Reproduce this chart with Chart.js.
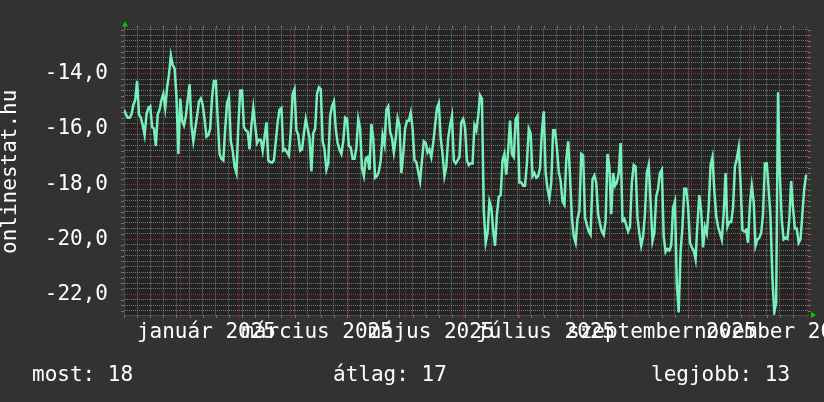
<!DOCTYPE html>
<html><head><meta charset="utf-8">
<script src="https://cdn.jsdelivr.net/npm/chart.js@4.4.1/dist/chart.umd.min.js"></script>
<style>
html,body{margin:0;padding:0;background:#323232;}
#wrap{position:relative;width:824px;height:402px;overflow:hidden;background:#323232;}
#c{position:absolute;left:0;top:0;}
.stat{position:absolute;top:361px;font-family:'DejaVu Sans Mono',monospace;font-size:21px;line-height:26px;color:#ffffff;white-space:pre;}
#s0{left:32px;} #s1{left:333px;} #s2{left:651px;}
</style></head><body>
<div id="wrap">
<canvas id="c" width="824" height="402"></canvas>
<div class="stat" id="s0"></div><div class="stat" id="s1"></div><div class="stat" id="s2"></div>
</div>
<script>
// ---- data ----
const startDate = [2024, 11, 2];          // first day shown (2024-12-02)
const monthNames = ['január','február','március','április','május','június','július','augusztus','szeptember','október','november','december'];
const labelYear = 2025;
const labelMonths = [0, 2, 4, 6, 8, 10];  // labelled months of 2025
const axisTitle = 'onlinestat.hu';
const statLabels = ['most', 'átlag', 'legjobb'];
const statValues = [18, 17, 13];
// daily value (negated rank), one per day
const ranks = [
-15.30,-15.47,-15.59,-15.59,-15.47,-15.13,-14.95,-14.26,-15.47,-15.59,
-15.87,-16.22,-15.47,-15.24,-15.18,-15.93,-15.99,-16.62,-15.47,-15.30,
-14.95,-14.72,-15.24,-14.49,-14.03,-13.34,-13.69,-13.80,-14.84,-16.91,
-14.90,-15.70,-15.87,-15.53,-14.95,-14.38,-15.87,-16.45,-15.99,-15.53,
-15.01,-14.90,-15.13,-15.64,-16.28,-16.22,-15.99,-14.84,-14.26,-14.26,
-15.64,-16.91,-17.08,-17.14,-15.99,-15.07,-14.84,-16.45,-16.79,-17.37,
-17.60,-15.90,-14.61,-14.61,-15.93,-16.05,-16.10,-16.74,-15.87,-15.24,
-15.87,-16.51,-16.39,-16.39,-16.79,-16.28,-15.76,-17.14,-17.20,-17.22,
-17.14,-16.45,-15.76,-15.30,-15.24,-16.79,-16.74,-16.85,-16.97,-16.10,
-14.72,-14.55,-16.05,-16.22,-16.79,-16.74,-16.16,-15.64,-15.99,-16.33,
-17.54,-16.16,-15.99,-14.72,-14.49,-14.55,-16.45,-16.74,-17.48,-17.25,
-15.53,-15.18,-15.01,-15.99,-16.51,-16.76,-16.91,-16.45,-15.59,-15.64,
-16.62,-16.68,-17.08,-17.08,-16.68,-15.64,-15.99,-17.43,-17.71,-17.08,
-17.02,-17.48,-15.82,-16.33,-17.77,-17.71,-17.54,-17.14,-16.22,-16.56,
-15.30,-15.18,-16.10,-16.33,-16.85,-16.33,-15.61,-15.87,-17.60,-16.91,
-15.99,-15.70,-15.70,-15.41,-15.99,-17.14,-17.20,-17.54,-17.89,-17.14,
-16.45,-16.51,-16.85,-16.74,-17.02,-16.51,-15.87,-15.24,-15.07,-16.33,
-16.91,-17.71,-17.37,-16.33,-15.87,-15.53,-17.14,-17.25,-17.14,-17.02,
-15.76,-15.64,-15.95,-17.14,-17.31,-17.25,-17.25,-15.87,-16.05,-15.53,
-14.78,-14.90,-18.98,-20.13,-19.78,-18.63,-18.86,-19.67,-20.24,-19.09,
-18.46,-18.40,-17.14,-16.90,-17.66,-16.79,-15.70,-16.91,-17.02,-15.64,
-15.53,-17.94,-17.94,-18.06,-18.06,-17.25,-15.99,-16.16,-17.71,-17.60,
-17.77,-17.71,-17.43,-16.10,-15.36,-17.60,-18.17,-18.52,-17.94,-16.05,
-16.05,-16.68,-17.54,-17.89,-18.63,-18.75,-17.14,-16.45,-17.71,-19.21,
-19.90,-20.13,-19.26,-18.98,-16.91,-16.97,-19.21,-19.49,-19.72,-19.84,
-17.83,-17.69,-17.94,-19.09,-19.44,-19.72,-19.84,-19.32,-16.91,-17.37,
-19.09,-17.60,-18.06,-17.94,-17.60,-16.51,-19.32,-19.26,-19.49,-19.72,
-19.55,-17.94,-17.31,-17.37,-19.21,-19.78,-20.24,-19.90,-19.09,-17.60,
-17.31,-18.63,-20.07,-19.78,-18.46,-18.17,-17.60,-17.48,-19.90,-20.47,
-20.36,-20.41,-20.24,-18.86,-18.63,-21.62,-22.66,-20.47,-19.55,-18.17,
-18.17,-18.80,-20.13,-20.30,-20.41,-20.73,-19.45,-18.40,-18.98,-20.30,
-19.55,-19.78,-18.86,-17.31,-17.02,-18.23,-19.15,-19.55,-19.78,-20.01,
-19.09,-17.60,-19.55,-19.38,-19.38,-18.86,-17.37,-17.08,-16.68,-17.94,
-19.67,-19.72,-19.67,-20.13,-18.75,-18.06,-18.63,-20.24,-20.01,-19.95,
-19.78,-19.09,-17.25,-17.25,-18.17,-19.21,-21.39,-22.66,-22.31,-14.67,
-17.71,-19.32,-20.01,-19.95,-19.99,-19.32,-17.89,-18.86,-19.61,-19.61,
-20.13,-20.01,-19.09,-18.17,-17.66
];
const yMin = -22.75, yMax = -12.36;

// ---- derived ----
const DAY = 86400000;
const t0 = Date.UTC(startDate[0], startDate[1], startDate[2]);
const dayIndex = (y, m, d) => Math.round((Date.UTC(y, m, d) - t0) / DAY);
const nDays = ranks.length;
const monthStarts = new Set();
for (let k = 0; k < 14; k++) {
  const idx = dayIndex(startDate[0], startDate[1] + k, 1);
  if (idx >= 0 && idx <= nDays) monthStarts.add(idx);
}
const weekly = new Set();
for (let i = 0; i <= nDays; i += 7) weekly.add(i);
const labelMap = new Map();
labelMonths.forEach(m => labelMap.set(dayIndex(labelYear, m, 15), monthNames[m] + ' ' + labelYear));
const xTickVals = [...new Set([...weekly, ...monthStarts, ...labelMap.keys()])].sort((a, b) => a - b);

statLabels.forEach((l, i) => { document.getElementById('s' + i).textContent = l + ': ' + statValues[i]; });

const FONT = "'DejaVu Sans Mono', monospace";
const GRID = 'rgba(125,125,125,0.9)';
const MAJOR = 'rgba(150,45,45,0.95)';
const isMajorY = v => Math.round(v * 5) % 10 === 0;

const bgPlugin = {
  id: 'bg',
  beforeDraw(chart) {
    const {ctx, chartArea: a} = chart;
    ctx.save();
    ctx.fillStyle = '#242424';
    ctx.fillRect(a.left, a.top, a.right - a.left, a.bottom - a.top);
    ctx.restore();
  },
  afterDraw(chart) {
    const {ctx, chartArea: a, scales} = chart;
    ctx.save();
    ctx.lineWidth = 1;
    // small outside tick marks like the original
    scales.x.ticks.forEach(t => {
      const col = monthStarts.has(t.value) ? MAJOR : (weekly.has(t.value) ? GRID : null);
      if (!col) return;
      const px = Math.round(scales.x.getPixelForValue(t.value)) + 0.5;
      ctx.strokeStyle = col;
      ctx.beginPath(); ctx.moveTo(px, a.top - 3); ctx.lineTo(px, a.top); ctx.moveTo(px, a.bottom); ctx.lineTo(px, a.bottom + 3); ctx.stroke();
    });
    scales.y.ticks.forEach(t => {
      const py = Math.round(scales.y.getPixelForValue(t.value)) + 0.5;
      ctx.strokeStyle = isMajorY(t.value) ? MAJOR : GRID;
      ctx.beginPath(); ctx.moveTo(a.right, py); ctx.lineTo(a.right + 3, py); ctx.moveTo(a.left - 3, py); ctx.lineTo(a.left, py); ctx.stroke();
    });
    ctx.fillStyle = '#00d000';
    ctx.beginPath();
    ctx.moveTo(a.left + 1, a.top - 7); ctx.lineTo(a.left - 2, a.top - 2); ctx.lineTo(a.left + 4, a.top - 2); ctx.closePath(); ctx.fill();
    ctx.beginPath();
    ctx.moveTo(a.right + 8, a.bottom); ctx.lineTo(a.right + 3, a.bottom - 3); ctx.lineTo(a.right + 3, a.bottom + 3); ctx.closePath(); ctx.fill();
    ctx.restore();
  }
};

new Chart(document.getElementById('c'), {
  type: 'line',
  data: {
    datasets: [{
      data: ranks.map((v, i) => ({x: i, y: v})),
      borderColor: '#78f0bc',
      borderWidth: 2.5,
      pointRadius: 0,
      tension: 0,
      fill: false
    }]
  },
  options: {
    responsive: false,
    animation: false,
    devicePixelRatio: 1,
    layout: {padding: {left: 0, top: 15, right: 16, bottom: 46}},
    plugins: {legend: {display: false}, tooltip: {enabled: false}},
    scales: {
      x: {
        type: 'linear', min: 0, max: nDays,
        afterBuildTicks(s) { s.ticks = xTickVals.map(v => ({value: v})); },
        afterFit(s) { s.height = 41; s.paddingLeft = 0; s.paddingRight = 0; },
        grid: {
          drawTicks: false, lineWidth: 1,
          color: c => monthStarts.has(c.tick.value) ? MAJOR : (weekly.has(c.tick.value) ? GRID : 'rgba(0,0,0,0)')
        },
        border: {display: true, color: '#4a4a4a', dash: [1, 1]},
        ticks: {
          autoSkip: false, maxRotation: 0, minRotation: 0, padding: 5,
          color: '#ffffff', font: {family: FONT, size: 21},
          callback: v => labelMap.get(v) || ''
        }
      },
      y: {
        min: yMin, max: yMax,
        afterBuildTicks(s) {
          const t = [];
          for (let k = Math.ceil(yMin * 5); k <= Math.floor(yMax * 5); k++) t.push({value: k / 5});
          s.ticks = t;
        },
        afterFit(s) { s.width = 124; },
        grid: {
          drawTicks: false, lineWidth: 1,
          color: c => isMajorY(c.tick.value) ? MAJOR : GRID
        },
        border: {display: true, color: '#4a4a4a', dash: [1, 1]},
        ticks: {
          autoSkip: false, padding: 16, color: '#ffffff', font: {family: FONT, size: 21},
          callback: v => isMajorY(v) ? v.toFixed(1).replace('.', ',') : ''
        },
        title: {
          display: true, text: axisTitle, color: '#ffffff',
          font: {family: FONT, size: 21, lineHeight: 1}, padding: {top: 0, bottom: 0}
        }
      }
    }
  },
  plugins: [bgPlugin]
});
</script>
</body></html>
